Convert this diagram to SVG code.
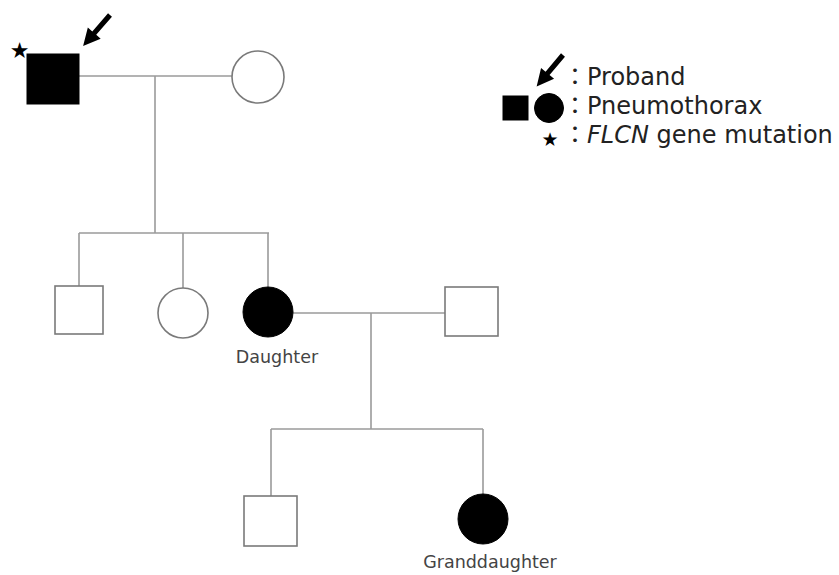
<svg xmlns="http://www.w3.org/2000/svg" xmlns:xlink="http://www.w3.org/1999/xlink" width="839" height="575" viewBox="0 0 839 575">
<style>
.line{stroke:#9a9a9a;stroke-width:1.6;fill:none}
.open{fill:#fff;stroke:#7a7a7a;stroke-width:1.6}
.aff{fill:#000;stroke:#000;stroke-width:1}
.lbl{font-family:"DejaVu Sans","Liberation Sans",sans-serif;font-size:17.5px;fill:#444}
.leg{font-family:"DejaVu Sans","Noto Sans CJK JP",sans-serif;font-size:24px;fill:#222}
.star{font-family:"DejaVu Sans",sans-serif;fill:#000}
</style>
<defs>
<polygon id="arrow" points="0,-2.6 24,-2.6 24,-8.5 41,0 24,8.5 24,2.6 0,2.6" fill="#000"/>
</defs>
<rect width="839" height="575" fill="#fff"/>
<g id="connectors">
<line class="line" x1="79" y1="76" x2="232" y2="76"/>
<line class="line" x1="155" y1="76" x2="155" y2="233"/>
<line class="line" x1="79" y1="233" x2="269" y2="233"/>
<line class="line" x1="79" y1="233" x2="79" y2="286"/>
<line class="line" x1="183" y1="233" x2="183" y2="288"/>
<line class="line" x1="268" y1="233" x2="268" y2="287"/>
<line class="line" x1="293" y1="313" x2="445" y2="313"/>
<line class="line" x1="371" y1="313" x2="371" y2="429"/>
<line class="line" x1="271" y1="429" x2="483" y2="429"/>
<line class="line" x1="271" y1="429" x2="271" y2="496"/>
<line class="line" x1="483" y1="429" x2="483" y2="494"/>
</g>
<g id="proband">
<rect class="aff" x="27" y="54" width="52" height="50"/>
<text class="star" x="19.5" y="58" font-size="22" text-anchor="middle">★</text>
<use xlink:href="#arrow" transform="translate(110,15) rotate(131)"/>
</g>
<g id="wife">
<circle class="open" cx="258" cy="77" r="26"/>
</g>
<g id="son">
<rect class="open" x="55" y="286" width="48" height="48"/>
</g>
<g id="daughter2">
<circle class="open" cx="183" cy="313" r="25"/>
</g>
<g id="daughter">
<circle class="aff" cx="268" cy="312" r="25"/>
<text class="lbl" x="277" y="363" text-anchor="middle">Daughter</text>
</g>
<g id="husband">
<rect class="open" x="445" y="287" width="53" height="49"/>
</g>
<g id="grandson">
<rect class="open" x="244" y="496" width="53" height="50"/>
</g>
<g id="granddaughter">
<circle class="aff" cx="483" cy="519" r="25"/>
<text class="lbl" x="490" y="568" text-anchor="middle">Granddaughter</text>
</g>
<g id="legend">
<use xlink:href="#arrow" transform="translate(563,55) rotate(130)"/>
<text class="leg" x="563" y="85">：Proband</text>
<rect class="aff" x="503" y="96" width="25" height="24"/>
<circle class="aff" cx="549" cy="108" r="14.5"/>
<text class="leg" x="563" y="114">：Pneumothorax</text>
<text class="star" x="550" y="146" font-size="19" text-anchor="middle">★</text>
<text class="leg" x="563" y="143">：<tspan font-style="italic">FLCN</tspan> gene mutation</text>
</g>
</svg>
